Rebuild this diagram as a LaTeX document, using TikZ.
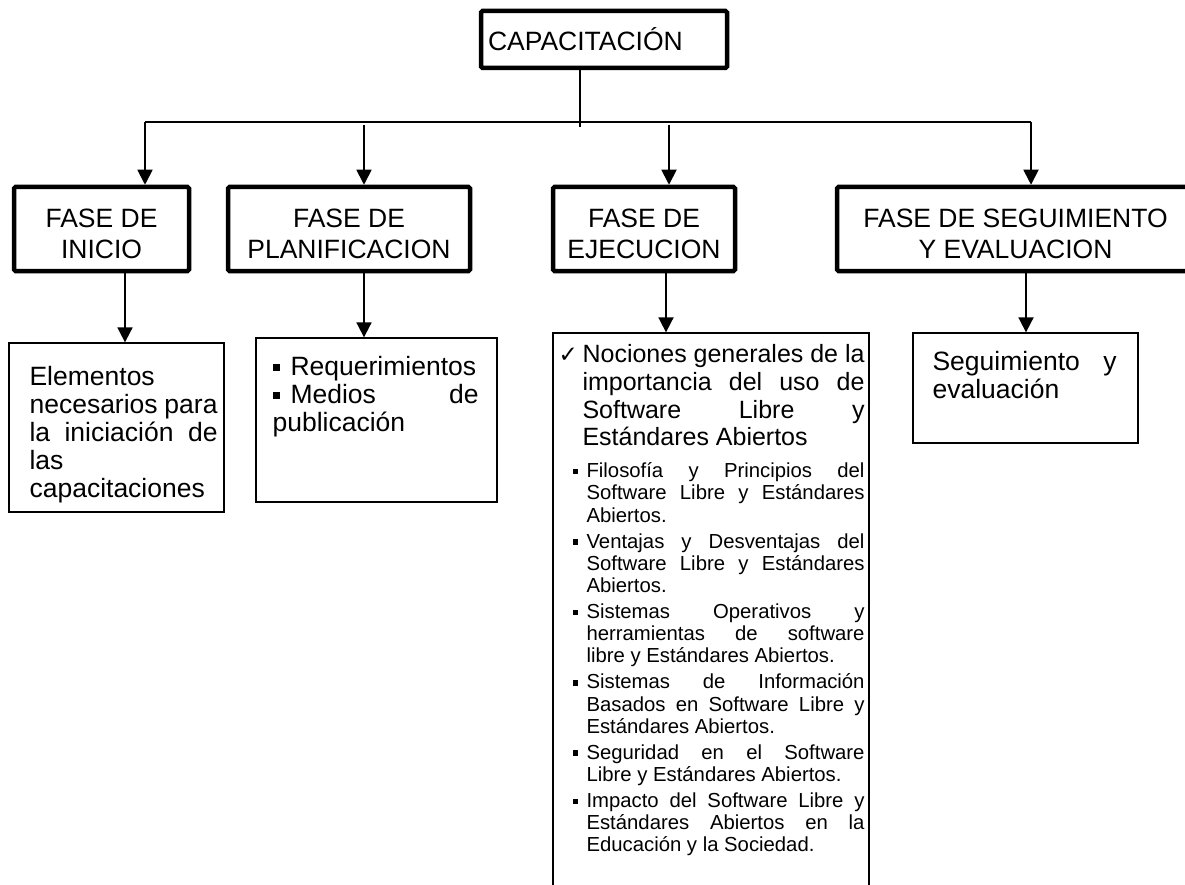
\documentclass[tikz,border=0pt]{standalone}
\usepackage{fontspec}
\setmainfont{Liberation Sans}
\newfontfamily\symbfont{DejaVu Sans}
\usetikzlibrary{arrows.meta, positioning, calc}
\setlength{\parindent}{0pt}
\newlength{\jw}
\newcommand{\natsp}{\spaceskip=0pt\xspaceskip=0pt\relax}
\newcommand{\jl}[1]{\makebox[\jw][s]{\natsp #1}\newline}
\newcommand{\bsq}{\rule[0.17em]{0.27em}{0.27em}}
\newcommand{\itm}[1]{\hangindent=#1\hangafter=1\leavevmode\makebox[#1][l]{\bsq}}
\newcommand{\phs}{\rule{0pt}{28pt}}

\begin{document}
\begin{tikzpicture}[x=1pt, y=-1pt,
    phase/.style={draw, line width=4.5pt, rounded corners=1.5pt, minimum height=84pt, inner sep=0pt, align=center,
      font=\fontsize{26.5}{31}\selectfont},
    cbox/.style={draw, line width=1.3pt, inner sep=0pt},
    txt/.style={inner sep=0pt, align=left, font=\fontsize{26.5}{28}\selectfont},
    arr/.style={line width=1.8pt, -{Triangle[width=15pt,length=15pt]}}]
    \useasboundingbox (0,0) rectangle (1185,885);
    % title and phases
    \node[phase, minimum width=246pt, minimum height=57pt, text width=232pt, align=left] (cap) at (604,39.5) {CAPACITACIÓN};
    \node[phase, minimum width=175pt] (inicio) at (101.5,229) {\phs FASE DE\\INICIO};
    \node[phase, minimum width=242pt] (plan) at (349,229) {\phs FASE DE\\PLANIFICACION};
    \node[phase, minimum width=182pt] (ejec) at (644,229) {\phs FASE DE\\EJECUCION};
    \node[phase, minimum width=357pt] (seg) at (1015.5,229) {\phs FASE DE SEGUIMIENTO\\Y EVALUACION};
    % content boxes
    \node[cbox, minimum width=215pt, minimum height=169pt] (inicioC) at (116.5,427.5) {};
    \node[cbox, minimum width=241pt, minimum height=164pt] (planC) at (376.5,420) {};
    \node[cbox, minimum width=316pt, minimum height=567pt] (ejecC) at (711,616.5) {};
    \node[cbox, minimum width=225pt, minimum height=110pt] (segC) at (1025.5,388) {};
    \node[txt, text width=190pt, below right=24pt and 21pt of inicioC.north west] (inicioT) {\natsp\setlength\jw{188pt}%
        Elementos\newline
        \jl{necesarios para}\jl{la iniciación de}las\newline
        capacitaciones};
    \node[txt, text width=206pt, below right=19pt and 17pt of planC.north west] (planT) {\natsp\setlength\jw{188pt}%
        \itm{18pt}Requerimientos\par
        \itm{18pt}\jl{Medios de}publicación};
    \node[txt, text width=306pt, below right=12pt and 6pt of ejecC.north west, font=\fontsize{25}{27.7}\selectfont] (ejecT) {\natsp\setlength\jw{282pt}%
        \hangindent=24pt\hangafter=1\makebox[24pt][l]{\symbfont\fontsize{23}{23}\selectfont ✓}%
        \jl{Nociones generales de la}\jl{importancia del uso de}\jl{Software Libre y}Estándares Abiertos\par
        \vspace{6pt}%
        \fontsize{20.3}{22.2}\selectfont\setlength\jw{278pt}\setlength\parskip{3.8pt}\leftskip=14pt
        \itm{14pt}\jl{Filosofía y Principios del}\jl{Software Libre y Estándares}Abiertos.\par
        \itm{14pt}\jl{Ventajas y Desventajas del}\jl{Software Libre y Estándares}Abiertos.\par
        \itm{14pt}\jl{Sistemas Operativos y}\jl{herramientas de software}libre y Estándares Abiertos.\par
        \itm{14pt}\jl{Sistemas de Información}\jl{Basados en Software Libre y}Estándares Abiertos.\par
        \itm{14pt}\jl{Seguridad en el Software}Libre y Estándares Abiertos.\par
        \itm{14pt}\jl{Impacto del Software Libre y}\jl{Estándares Abiertos en la}Educación y la Sociedad.\par};
    \node[txt, text width=186pt, below right=19pt and 20pt of segC.north west] (segT) {\natsp\setlength\jw{184pt}%
        \jl{Seguimiento y}evaluación};
    % connectors
    \coordinate (drop) at (580,127);
    \coordinate (barL) at (145,122);
    \coordinate (barR) at (1031,122);
    \coordinate (b2) at (364,125);
    \coordinate (b3) at (669,125);
    \draw[line width=1.8pt] (cap.south -| drop) -- (drop);
    \draw[line width=1.8pt] (barL) -- (barR);
    \draw[arr] (barL) -- (barL |- inicio.north);
    \draw[arr] (b2) -- (b2 |- plan.north);
    \draw[arr] (b3) -- (b3 |- ejec.north);
    \draw[arr] (barR) -- (barR |- seg.north);
    \coordinate (a1) at (125,0);
    \coordinate (a2) at (364,0);
    \coordinate (a3) at (666,0);
    \coordinate (a4) at (1026,0);
    \draw[arr] (a1 |- inicio.south) -- (a1 |- inicioC.north);
    \draw[arr] (a2 |- plan.south) -- (a2 |- planC.north);
    \draw[arr] (a3 |- ejec.south) -- (a3 |- ejecC.north);
    \draw[arr] (a4 |- seg.south) -- (a4 |- segC.north);
\end{tikzpicture}
\end{document}
